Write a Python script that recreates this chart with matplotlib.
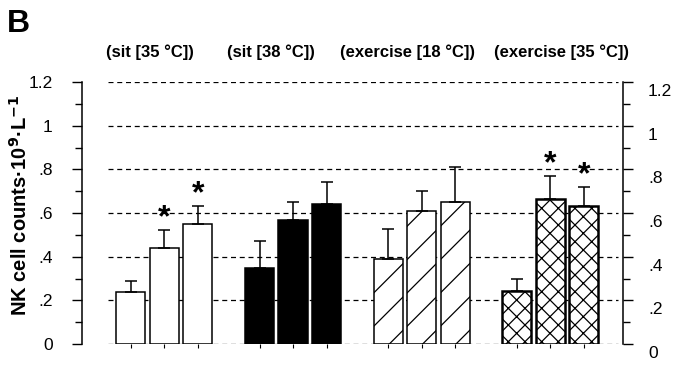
import numpy as np
import matplotlib
matplotlib.use("Agg")
import matplotlib.pyplot as plt
import matplotlib.transforms as mtransforms
from matplotlib.ticker import MultipleLocator, FixedLocator

plt.rcParams['font.family'] = ['Liberation Sans', 'DejaVu Sans']
plt.rcParams['hatch.linewidth'] = 0.9

# Datos
groups = ["(sit [35 °C])", "(sit [38 °C])", "(exercise [18 °C])", "(exercise [35 °C])"]
means = [[0.24, 0.44, 0.55],
         [0.35, 0.57, 0.64],
         [0.39, 0.61, 0.65],
         [0.245, 0.665, 0.63]]
errs = [[0.05, 0.08, 0.08],
        [0.12, 0.08, 0.10],
        [0.135, 0.09, 0.16],
        [0.055, 0.105, 0.09]]
stars = [[False, True, True],
         [False, False, False],
         [False, False, False],
         [False, True, True]]
yticks = [0, 0.2, 0.4, 0.6, 0.8, 1.0, 1.2]
ytick_labels = ["0", ".2", ".4", ".6", ".8", "1", "1.2"]

# estilos por grupo
faces = ["white", "black", "white", "white"]
hatches = [None, None, "/", "xx"]
edge_w = [1.1, 1.1, 1.1, 1.8]

fig = plt.figure(figsize=(6.78, 3.66), dpi=100)
ax = fig.add_axes([82/678, 1 - 344/366, (623-82)/678, (344-82)/366])

gap = 3.84
width = 0.87
for g in range(4):
    x = g * gap + np.arange(3)
    ax.bar(x, means[g], width=width, color=faces[g], edgecolor="black",
           linewidth=edge_w[g], hatch=hatches[g], zorder=3)
    ax.errorbar(x, means[g], yerr=[np.zeros(3), errs[g]], fmt="none",
                ecolor="black", elinewidth=1.1, capsize=4, capthick=1.1, zorder=4)
    for i in range(3):
        if stars[g][i]:
            ax.text(x[i], means[g][i] + errs[g][i] - 0.015, "*", ha="center",
                    va="bottom", fontsize=23, fontweight="bold", zorder=5)

# líneas punteadas horizontales
for yv in yticks:
    ax.axhline(yv, xmin=(108-82)/541, xmax=(618-82)/541, color="black",
               lw=0.9, linestyle=(0, (4, 3)), zorder=1)

ax.set_xlim(-1.46, 14.69)
ax.set_ylim(0, 1.2)
ax.spines["top"].set_visible(False)
ax.spines["bottom"].set_visible(False)
ax.spines["right"].set_visible(False)
ax.spines["left"].set_linewidth(1.1)
ax.set_xticks([g * gap + i for g in range(4) for i in range(3)])
ax.set_xticklabels([])
ax.tick_params(axis="x", length=3, width=0.8, direction="out")
ax.yaxis.set_major_locator(FixedLocator(yticks))
ax.set_yticklabels(ytick_labels)
ax.yaxis.set_minor_locator(MultipleLocator(0.1))
ax.tick_params(axis="y", which="major", length=7, width=1.0, labelsize=12.5, pad=14)
ax.tick_params(axis="y", which="minor", length=5, width=1.0)

ax2 = ax.twinx()
ax2.set_ylim(0, 1.2)
for s in ["top", "bottom", "left"]:
    ax2.spines[s].set_visible(False)
ax2.spines["right"].set_linewidth(1.1)
ax2.yaxis.set_major_locator(FixedLocator(yticks))
ax2.set_yticklabels(ytick_labels)
ax2.yaxis.set_minor_locator(MultipleLocator(0.1))
ax2.tick_params(axis="y", which="major", length=7, width=1.0, labelsize=12.5, pad=11)
ax2.tick_params(axis="y", which="minor", length=5, width=1.0)
offset = mtransforms.ScaledTranslation(0, -8/100, fig.dpi_scale_trans)
for lab in ax2.get_yticklabels():
    lab.set_transform(lab.get_transform() + offset)

ax.set_ylabel("NK cell counts·10$^\\mathbf{9}$·L$^\\mathbf{-1}$", fontsize=14.5,
              fontweight="bold")
ax.yaxis.set_label_coords(-51/541, 0.53)

fig.text(7/678, 1 - 24/366, "B", fontsize=23, fontweight="bold", va="center")
label_x = [150, 271, 407, 562]
for lx, name in zip(label_x, groups):
    fig.text(lx/678, 1 - 52/366, name, fontsize=12, fontweight="bold",
             ha="center", va="center")

fig.savefig("out.png", dpi=100)
